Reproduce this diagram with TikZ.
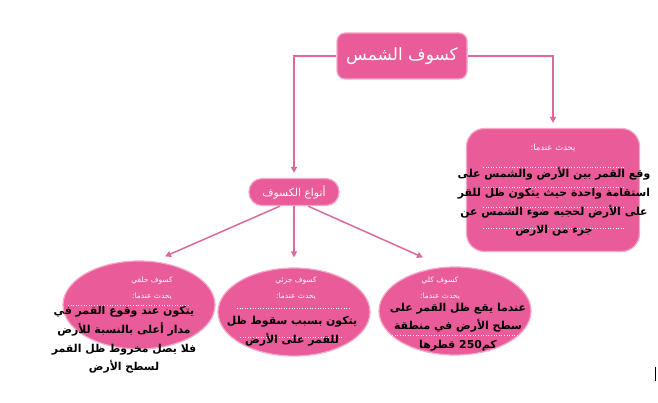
\documentclass[tikz,border=0pt]{standalone}
\usepackage{fontspec}
\usepackage{tikz}
\usetikzlibrary{positioning}
\usetikzlibrary{shapes.geometric}
\usetikzlibrary{arrows.meta}

\TeXXeTstate=1
\newfontfamily\arabicfont[Script=Arabic]{DejaVu Sans}
\newcommand{\arl}[1]{\beginR #1\endR}

\definecolor{eclipsepink}{HTML}{E95C99}
\definecolor{eclipseedge}{HTML}{F5A8C8}
\definecolor{eclipseline}{HTML}{DA6A9E}

\tikzset{
  pinkbox/.style={fill=eclipsepink,draw=eclipseedge,line width=1.2pt},
  pinkoval/.style={ellipse,pinkbox,minimum width=152pt,minimum height=88pt,inner sep=0pt},
  link/.style={->,>={Triangle[length=6pt,width=6pt]},draw=eclipseline,line width=1.5pt},
  whitetext/.style={text=white,align=center,font=\arabicfont\fontsize{8.5}{16}\selectfont},
  smallhead/.style={text=white,align=center,font=\arabicfont\fontsize{7.5}{15.5}\selectfont},
  blacktext/.style={text=black,align=center,font=\arabicfont\bfseries\fontsize{10.9}{18.7}\selectfont},
  dots/.style={draw=white,dotted,line width=0.6pt}
}

\begin{document}
\begin{tikzpicture}[x=1pt,y=-1pt]
  \useasboundingbox (0,0) rectangle (658,403);

  \node at (402,56) [pinkbox,rounded corners=8pt,minimum width=130pt,minimum height=46pt,
    text=white,font=\arabicfont\fontsize{17}{20}\selectfont] (sun) {\arl{كسوف الشمس}};

  \node at (294,192) [pinkbox,rounded corners=13pt,minimum width=90pt,minimum height=27pt,
    text=white,font=\arabicfont\fontsize{10.8}{12}\selectfont] (types) {\arl{أنواع الكسوف}};

  \node at (553,190) [pinkbox,rounded corners=18pt,minimum width=173pt,minimum height=123pt] (when) {};

  \node at (139,305) [pinkoval] (ring) {};
  \node at (294,312) [pinkoval] (partial) {};
  \node at (455,311) [pinkoval] (total) {};

  % dotted rules
  \foreach \y in {167,187,207,228}
    \draw[dots] (483,\y) -- (625,\y);
  \draw[dots] (68,305) -- (190,305);
  \draw[dots] (237,308) -- (350,308);
  \draw[dots] (240,337) -- (342,337);
  \draw[dots] (387,335) -- (530,335);

  \node at (553,148) [whitetext] (whenhead) {\arl{يحدث عندما:}};
  \node at (554,202) [blacktext] (whenbody) {
    \arl{وقع القمر بين الأرض والشمس على}\\
    \arl{استقامة واحدة حيث يتكون ظل للقر}\\
    \arl{على الأرض لحجبه ضوء الشمس عن}\\
    \arl{جزء من الارض}
  };

  \node at (152,288) [smallhead] (ringhead) {\arl{كسوف حلقي}\\\arl{يحدث عندما:}};
  \node at (124,340) [blacktext] (ringbody) {
    \arl{يتكون عند وقوع القمر في}\\
    \arl{مدار أعلى بالنسبة للأرض}\\
    \arl{فلا يصل مخروط ظل القمر}\\
    \arl{لسطح الأرض}
  };

  \node at (296,288) [smallhead] (partialhead) {\arl{كسوف جزئي}\\\arl{يحدث عندما:}};
  \node at (292,331) [blacktext] (partialbody) {
    \arl{يتكون بسبب سقوط ظل}\\
    \arl{للقمر على الأرض}
  };

  \node at (440,288) [smallhead] (totalhead) {\arl{كسوف كلي}\\\arl{يحدث عندما:}};
  \node at (458,327) [blacktext] (totalbody) {
    \arl{عندما يقع ظل القمر على}\\
    \arl{سطح الأرض في منطقة}\\
    \arl{كم\kern0pt 250 قطرها}
  };

  \draw[link,shorten >=5pt] (sun.west) -| (types.north);
  \draw[link,shorten >=5pt] (sun.east) -| (when.north);

  \draw[link] ([xshift=-14pt]types.south) -- ([xshift=26pt,yshift=4pt]ring.north);
  \draw[link] (types.south) -- ([yshift=10pt]partial.north);
  \draw[link] ([xshift=14pt]types.south) -- ([xshift=-32pt,yshift=9pt]total.north);

  \draw[line width=1pt] (655,367) -- (655,381);
\end{tikzpicture}
\end{document}
